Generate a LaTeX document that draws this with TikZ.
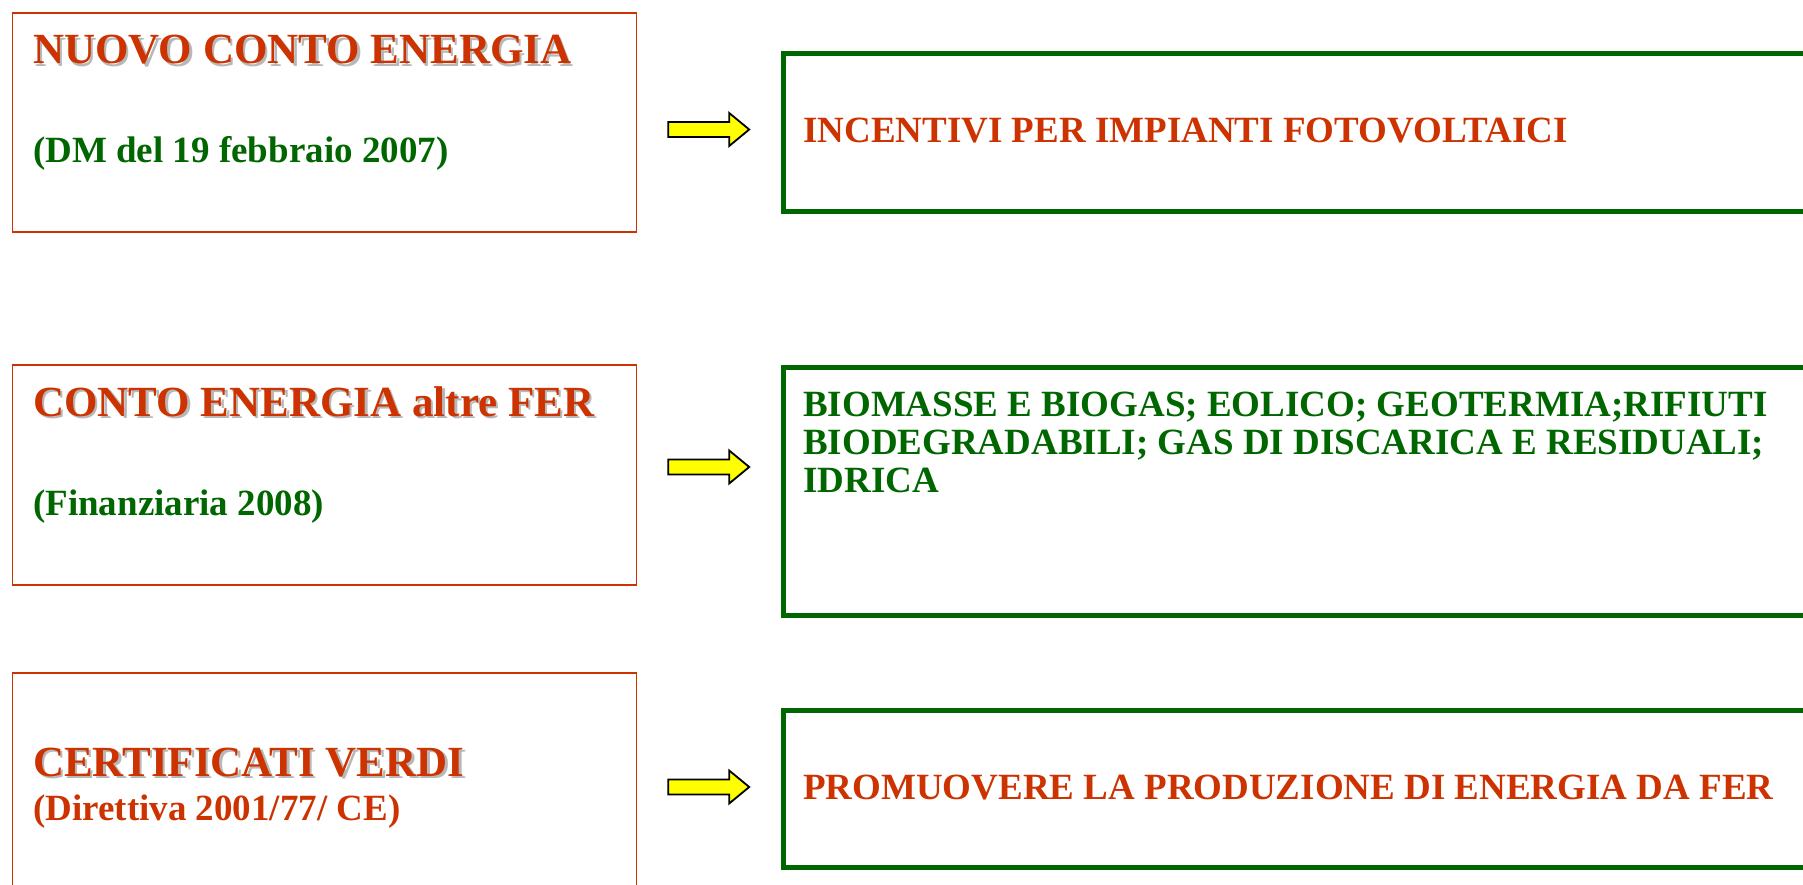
\documentclass[tikz,border=0pt]{standalone}
\usepackage{fontspec}
\setmainfont{Liberation Serif}
\usetikzlibrary{positioning}
\definecolor{rosso}{RGB}{204,51,0}
\definecolor{verde}{RGB}{0,102,0}
\definecolor{giallo}{RGB}{255,255,0}
% testo con ombra grigia
\newcommand\ombra[1]{\makebox[0pt][l]{\hspace{2.5pt}\raisebox{-2.5pt}{\color{black!28}#1}}#1}
\begin{document}
\begin{tikzpicture}[x=1pt, y=-1pt, line join=miter,
	sx/.style={draw=rosso, line width=1.5pt, minimum width=624pt, anchor=north west, inner sep=0pt},
	dx/.style={draw=verde, line width=5pt, minimum width=1100pt, anchor=north west, inner sep=0pt},
	titolo/.style={anchor=base west, inner sep=0pt, text=rosso, font=\bfseries\fontsize{43}{48}\selectfont},
	sotto/.style={anchor=base west, inner sep=0pt, text=verde, font=\bfseries\fontsize{37}{38}\selectfont},
	freccia/.style={draw=black, line width=1.8pt, fill=giallo}]
	\useasboundingbox (0,0) rectangle (1803,885);
	\clip (0,0) rectangle (1803,885);
	% riquadri a sinistra
	\node[sx, minimum height=219pt] (sx1) at (11.7,12.3) {};
	\node[sx, minimum height=220pt] (sx2) at (11.7,364) {};
	\node[sx, minimum height=300pt] (sx3) at (11.7,672) {};
	% riquadri a destra
	\node[dx, minimum height=158.5pt] (dx1) at (780.5,51) {};
	\node[dx, minimum height=247.5pt] (dx2) at (780.5,365) {};
	\node[dx, minimum height=157.5pt] (dx3) at (780.5,707.5) {};
	% testi
	\node[titolo] (t1) at (33,64) {\ombra{NUOVO CONTO ENERGIA}};
	\node[sotto] (s1) at (33,163) {(DM del 19 febbraio 2007)};
	\node[titolo] (t2) at (33,416) {\ombra{CONTO ENERGIA altre FER}};
	\node[sotto] (s2) at (33,515) {(Finanziaria 2008)};
	\node[titolo] (t3) at (33,776) {\ombra{CERTIFICATI VERDI}};
	\node[sotto, text=rosso] (s3) at (33,820) {(Direttiva 2001/77/ CE)};
	\node[sotto, text=rosso] (r1) at (803,143) {INCENTIVI PER IMPIANTI FOTOVOLTAICI};
	\node[sotto, align=left] (r2) at (803,492) {BIOMASSE E BIOGAS; EOLICO; GEOTERMIA;RIFIUTI\\
		BIODEGRADABILI; GAS DI DISCARICA E RESIDUALI;\\IDRICA};
	\node[sotto, text=rosso] (r3) at (803,799) {PROMUOVERE LA PRODUZIONE DI ENERGIA DA FER};
	% frecce gialle
	\foreach \y/\n in {129.5/1, 467/2, 787/3}{
		\coordinate (a\n) at (sx\n.east |- 0,\y);
		\draw[freccia] ([xshift=31pt]a\n) ++(0,-7.5) -- ++(61,0) -- ++(0,-9) -- ++(20,16.5)
			-- ++(-20,16.5) -- ++(0,-9) -- ++(-61,0) -- cycle;
	}
\end{tikzpicture}
\end{document}
